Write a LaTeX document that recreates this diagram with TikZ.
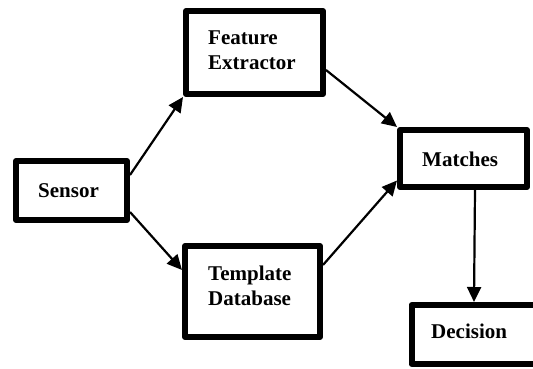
\documentclass[tikz,border=0pt]{standalone}
\usepackage{fontspec}
\setmainfont{Liberation Serif}
\usetikzlibrary{arrows.meta}

\begin{document}
\begin{tikzpicture}[x=1pt,y=-1pt,
    box/.style={shape=rectangle,draw=black,line width=6pt,line join=round,inner sep=0pt},
    txt/.style={inner sep=0pt,anchor=base west,align=left,font=\bfseries\fontsize{21}{25}\selectfont},
    conn/.style={-{Triangle[length=15pt,width=14pt]},line width=2.2pt}]
            \useasboundingbox (0,0) rectangle (533,369);
            \node[box,minimum width=111pt,minimum height=59pt] (sensor) at (71.5,190.5) {};
            \node[box,minimum width=137pt,minimum height=83pt] (fe) at (254.5,52.5) {};
            \node[box,minimum width=135pt,minimum height=91pt] (td) at (252.5,291.5) {};
            \node[box,minimum width=127pt,minimum height=57pt] (match) at (463.5,158.5) {};
            \node[box,minimum width=133pt,minimum height=59pt] (dec) at (478,334.5) {};
            \node[txt] (sensortxt) at (38,197) {Sensor};
            \node[txt] (fetxt) at (208,70) {Feature\\Extractor};
            \node[txt] (tdtxt) at (208,305) {Template\\Database};
            \node[txt] (matchtxt) at (422,166) {Matches};
            \node[txt] (dectxt) at (431,338) {Decision};
            \path [conn] ([yshift=15.5pt]sensor.east) edge (fe.south west);
            \path [conn] ([yshift=-21.5pt]sensor.east) edge ([yshift=21.5pt]td.west);
            \path [conn] ([yshift=-17.5pt]fe.east) edge (match.north west);
            \path [conn] ([yshift=26.5pt]td.east) edge ([yshift=-22pt]match.west);
            \path [conn] ([xshift=11.5pt]match.south) edge ([xshift=-4pt]dec.north);
        \end{tikzpicture}
\end{document}
